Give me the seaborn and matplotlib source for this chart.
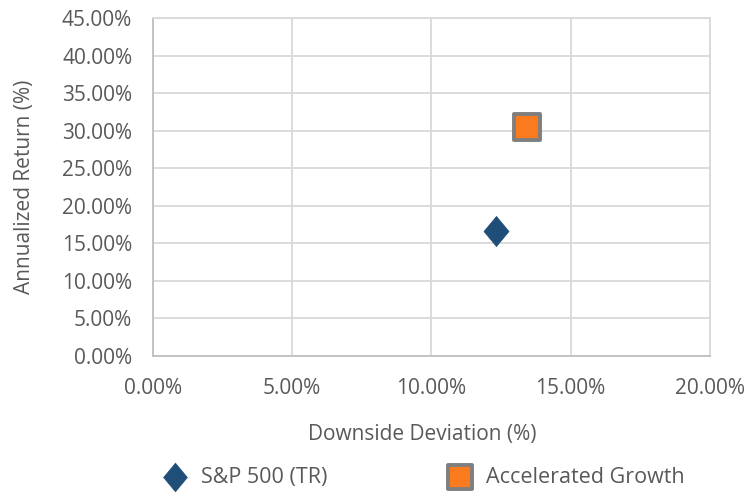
import matplotlib
matplotlib.use("Agg")
import matplotlib.pyplot as plt
import seaborn as sns
import pandas as pd
from matplotlib.path import Path
from matplotlib.ticker import PercentFormatter, MultipleLocator

names = ["S&P 500 (TR)", "Accelerated Growth"]
downside_dev = [12.32, 13.45]
ann_return = [16.7, 30.5]

df = pd.DataFrame({"name": names, "x": downside_dev, "y": ann_return})

sns.set_theme(style="white")
plt.rcParams["font.family"] = ["Open Sans", "DejaVu Sans"]

tall_diamond = Path([(0, 1), (0.83, 0), (0, -1), (-0.83, 0), (0, 1)],
                    [Path.MOVETO, Path.LINETO, Path.LINETO, Path.LINETO, Path.CLOSEPOLY])

fig = plt.figure(figsize=(7.48, 4.92), dpi=100)
ax = fig.add_axes([0.2045, 0.2764, 0.7445, 0.687])

text_c = "#595959"
grid_c = "#d9d9d9"
fs = 15

sns.scatterplot(data=df[df.name == names[0]], x="x", y="y", ax=ax, marker=tall_diamond,
                s=470, color="#1f4e79", edgecolor="#1f4e79", linewidth=0.5, label=names[0], zorder=3)
sns.scatterplot(data=df[df.name == names[1]], x="x", y="y", ax=ax, marker="s",
                s=330, color="#fa7a1e", edgecolor="#7f7f7f", linewidth=2.8, label=names[1], zorder=3)

ax.set_xlim(0, 20)
ax.set_ylim(0, 45)
ax.xaxis.set_major_locator(MultipleLocator(5))
ax.yaxis.set_major_locator(MultipleLocator(5))
ax.xaxis.set_major_formatter(PercentFormatter(decimals=2))
ax.yaxis.set_major_formatter(PercentFormatter(decimals=2))
ax.grid(True, color=grid_c, linewidth=1.3)
ax.set_axisbelow(True)
for s in ax.spines.values():
    s.set_color(grid_c)
    s.set_linewidth(1.3)
ax.spines["left"].set_color("#bfbfbf")
ax.spines["bottom"].set_color("#bfbfbf")
ax.tick_params(axis="both", colors=text_c, labelsize=fs, length=0)
ax.tick_params(axis="x", pad=16)
ax.tick_params(axis="y", pad=15)
ax.set_xlabel("Downside Deviation (%)", color=text_c, fontsize=fs)
ax.xaxis.set_label_coords(0.484, -0.2)
ax.set_ylabel("Annualized Return (%)", color=text_c, fontsize=fs, labelpad=19)

h, l = ax.get_legend_handles_labels()
ax.get_legend().remove()
leg = fig.legend(h, l, loc="center", bbox_to_anchor=(0.566, 0.03), ncol=2, frameon=False,
                 fontsize=15.5, columnspacing=5.6, handlelength=1.2, handletextpad=0.6,
                 markerscale=0.95)
for t in leg.get_texts():
    t.set_color(text_c)

fig.savefig("out.png", dpi=100)
